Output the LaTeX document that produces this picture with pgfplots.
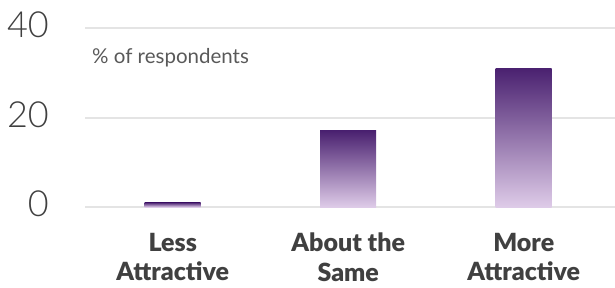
\documentclass[border=0pt]{standalone}
\usepackage{pgfplots}
\pgfplotsset{compat=1.18}
\usepackage{fontspec}
\setmainfont{Lato}
\newfontfamily\latolight{Lato Light}
\newfontfamily\latoblack{Lato Black}
\definecolor{tickgray}{HTML}{404040}
\definecolor{labgray}{HTML}{595959}
\definecolor{gridgray}{HTML}{E4E4E4}
\definecolor{bartop}{RGB}{74,33,112}
\definecolor{barmid}{RGB}{185,163,203}
\definecolor{barbot}{RGB}{222,203,232}
\begin{document}
\begin{tikzpicture}
\begin{axis}[
  at={(0pt,0pt)}, anchor=south west,
  scale only axis, width=530pt, height=179pt,
  xmin=-0.5, xmax=2.52, ymin=0, ymax=40,
  ytick={0,20,40}, xtick={0,1,2},
  xticklabels={{Less\\Attractive},{About the\\Same},{More\\Attractive}},
  axis line style={draw=none}, major tick length=0pt,
  ymajorgrids, grid style={color=gridgray, line width=2pt},
  /pgf/number format/assume math mode=true,
  yticklabel style={font=\latolight\fontsize{36}{40}\selectfont, text=tickgray, anchor=east, inner sep=0pt, xshift=-36pt, yshift=3pt},
  xticklabel style={font=\latoblack\fontsize{25}{29.5}\selectfont, text=tickgray, align=center, anchor=north, inner sep=0pt, yshift=-26pt},
  clip=false,
  mybar/.style={ybar, bar width=56pt, bar shift=0pt, draw=none, mark=none, top color=bartop, middle color=barmid, bottom color=barbot},
]
\addplot[mybar] coordinates {(0,1)};
\addplot[mybar] coordinates {(1,17)};
\addplot[mybar] coordinates {(2,31)};
\node[anchor=base west, inner sep=0pt, text=labgray, font=\fontsize{20.5}{24}\selectfont] at (axis cs:-0.46,32) {\% of respondents};
\end{axis}
\pgfresetboundingbox
\useasboundingbox (-85pt,-80pt) rectangle (530pt,207pt);
\end{tikzpicture}
\end{document}
